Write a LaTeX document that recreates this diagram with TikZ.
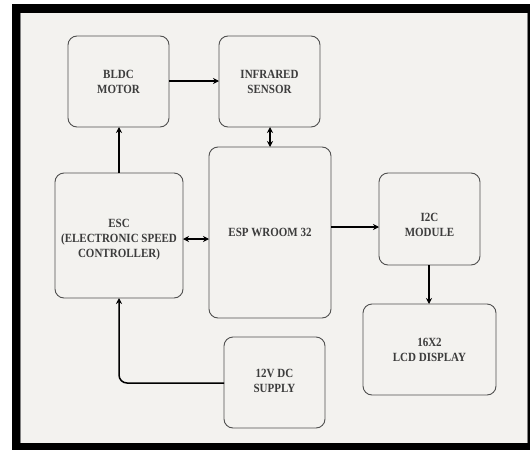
\documentclass[tikz,border=0pt]{standalone}
\usepackage{fontspec}
\setmainfont{Liberation Serif}[FakeStretch=0.88]
\usetikzlibrary{arrows.meta}
\definecolor{bgc}{HTML}{F3F2EF}
\definecolor{txtc}{HTML}{3C3C3C}
\definecolor{boxc}{HTML}{505050}
\begin{document}
\begin{tikzpicture}[x=1pt,y=-1pt,
  blk/.style={draw=boxc, line width=0.9pt, rounded corners=9pt, fill=bgc, inner sep=0pt},
  lbl/.style={text=txtc, font=\fontsize{12.5}{15}\selectfont\bfseries, align=center},
  arr/.style={draw=black, line width=1.5pt, -{Stealth[length=6pt,width=6pt]}},
  darr/.style={draw=black, line width=1.5pt, {Stealth[length=6pt,width=6pt]}-{Stealth[length=6pt,width=6pt]}}]
\useasboundingbox (0,0) rectangle (530,450);
\fill[white] (0,0) rectangle (530,450);
\fill[black] (12,4) rectangle (530,450);
\fill[bgc] (20.5,13) rectangle (527.5,443);
\draw[gray, line width=0.8pt] (20.5,13) -- (20.5,443);
\draw[gray, line width=0.8pt] (527.5,13) -- (527.5,443);
% boxes
\draw[blk] (68,36) rectangle (169,127);
\node[lbl] (bldc) at (118.5,82) {BLDC\\MOTOR};
\coordinate (bldcS) at (119,127);
\coordinate (bldcE) at (169,81);
\draw[blk] (219,36) rectangle (320,127);
\node[lbl] (ir) at (269.5,82) {INFRARED\\SENSOR};
\coordinate (irW) at (219,81);
\coordinate (irS) at (270,127);
\draw[blk] (55,173) rectangle (183,298);
\node[lbl] (esc) at (119,240) {ESC\\(ELECTRONIC SPEED\\CONTROLLER)};
\coordinate (escN) at (119,173);
\coordinate (escE) at (183,239);
\coordinate (escS) at (119,298);
\draw[blk] (209,147) rectangle (331,318);
\node[lbl] (esp) at (270,232) {ESP WROOM 32};
\coordinate (espN) at (270,147);
\coordinate (espW) at (209,239);
\coordinate (espE) at (331,227);
\draw[blk] (379,173) rectangle (480,265);
\node[lbl] (i2c) at (429.5,225) {I2C\\MODULE};
\coordinate (i2cW) at (379,227);
\coordinate (i2cS) at (429,265);
\draw[blk] (363,304) rectangle (496,395);
\node[lbl] (lcd) at (429.5,349.5) {16X2\\LCD DISPLAY};
\coordinate (lcdN) at (429,304);
\draw[blk] (224,337) rectangle (325,428);
\node[lbl] (sup) at (274.5,380.5) {12V DC\\SUPPLY};
\coordinate (supW) at (224,383);
% connectors
\draw[arr] (bldcE) -- (irW);
\draw[arr] (escN) -- (bldcS);
\draw[darr] (irS) -- (espN);
\draw[darr] (escE) -- (espW);
\draw[arr] (espE) -- (i2cW);
\draw[arr] (i2cS) -- (lcdN);
\draw[arr, rounded corners=8pt] (supW) -| (escS);
\end{tikzpicture}
\end{document}
